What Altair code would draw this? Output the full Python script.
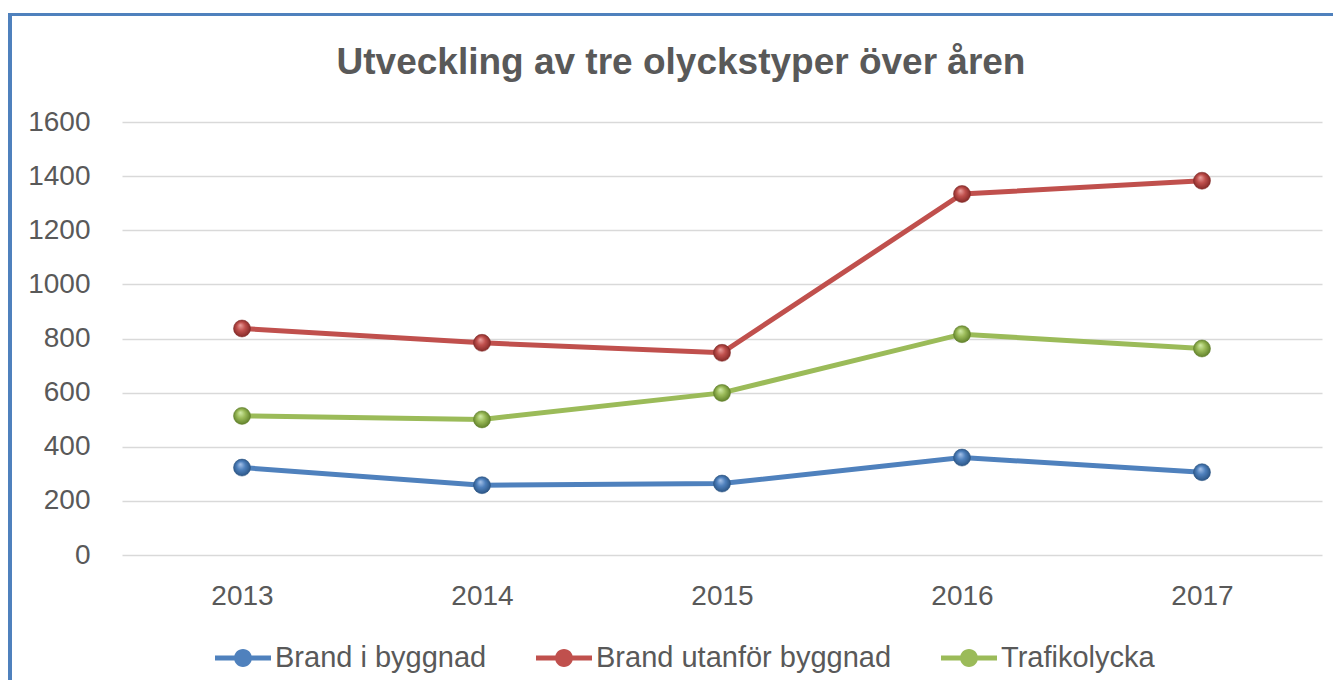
import altair as alt
import pandas as pd

years = ["2013", "2014", "2015", "2016", "2017"]
series_names = ["Brand i byggnad", "Brand utanför byggnad", "Trafikolycka"]
brand_i_byggnad = [323, 258, 264, 360, 306]
brand_utanfor = [837, 784, 747, 1334, 1383]
trafikolycka = [514, 501, 599, 816, 763]
y_ticks = [0, 200, 400, 600, 800, 1000, 1200, 1400, 1600]
title_text = "Utveckling av tre olyckstyper över åren"

colors = ["#4f81bd", "#c0504d", "#9bbb59"]
light = ["#a9c4ea", "#eba3a1", "#d3ecaa"]
dark = ["#27507f", "#7d2523", "#5a7a25"]

rows = []
for name, vals in zip(series_names, [brand_i_byggnad, brand_utanfor, trafikolycka]):
    for yr, v in zip(years, vals):
        rows.append({"year": yr, "value": v, "series": name})
df = pd.DataFrame(rows)

FONT = "Liberation Sans"
TXT = "#595959"

x_enc = alt.X("year:O", scale=alt.Scale(type="point", padding=0.5), title=None,
              axis=alt.Axis(labelAngle=0, labelFontSize=28, labelFont=FONT, labelColor=TXT,
                            labelPadding=27, ticks=False, domain=False, grid=False))
y_enc = alt.Y("value:Q", scale=alt.Scale(domain=[0, 1600], nice=False), title=None,
              axis=alt.Axis(values=y_ticks, format="d", labelFontSize=28, labelFont=FONT,
                            labelColor=TXT, labelPadding=32, ticks=False, domain=False,
                            grid=True, gridColor="#d9d9d9", gridWidth=1.5))

legend_path = ("M-1,-0.09 L1,-0.09 L1,0.09 L-1,0.09 Z "
               "M-0.32,0 A0.32,0.32 0 1,1 0.32,0 A0.32,0.32 0 1,1 -0.32,0 Z")

color_scale = alt.Scale(domain=series_names, range=colors)
legend = alt.Legend(title=None, orient="none", direction="horizontal",
                    legendX=93, legendY=508,
                    symbolType=legend_path, symbolSize=3136,
                    symbolStrokeWidth=0, symbolOpacity=1,
                    labelFontSize=29, labelFont=FONT, labelColor=TXT,
                    labelOffset=4, columnPadding=49, labelLimit=500)

lines = alt.Chart(df).mark_line(strokeWidth=5).encode(
    x=x_enc,
    y=y_enc,
    color=alt.Color("series:N", scale=color_scale, sort=series_names, legend=legend),
)

legend_layer = alt.Chart(df).mark_point(filled=True, opacity=0).encode(
    x=alt.X("year:O"),
    y=alt.Y("value:Q"),
    color=alt.Color("series:N", scale=color_scale, sort=series_names, legend=legend),
)

point_layers = []
for name, c, lc, dc in zip(series_names, colors, light, dark):
    grad = {"gradient": "radial", "x1": 0.4, "y1": 0.3, "r1": 0.0,
            "x2": 0.5, "y2": 0.5, "r2": 0.55,
            "stops": [{"offset": 0, "color": lc},
                      {"offset": 0.45, "color": c},
                      {"offset": 1, "color": dc}]}
    pts = alt.Chart(df).transform_filter(alt.datum.series == name).mark_point(
        filled=True, size=290, fill=grad, opacity=1, stroke=dc, strokeWidth=0.5
    ).encode(x=alt.X("year:O"), y=alt.Y("value:Q"))
    point_layers.append(pts)

frame_left = alt.Chart(df).mark_rule(color="#4f81bd", strokeWidth=5).encode(
    x=alt.value(-112.5), y=alt.value(-108.5), y2=alt.value(600))
frame_top = alt.Chart(df).mark_rule(color="#4f81bd", strokeWidth=3).encode(
    x=alt.value(-115), x2=alt.value(1230), y=alt.value(-107.5))

title = alt.Chart(pd.DataFrame({"t": [title_text]})).mark_text(
    font=FONT, fontSize=37, fontWeight="bold", color=TXT, align="center",
    baseline="alphabetic"
).encode(text="t:N", x=alt.value(559), y=alt.value(-48))

chart = alt.layer(frame_left, frame_top, title, lines, legend_layer, *point_layers).properties(
    width=1200, height=433,
    background="white",
    autosize=alt.AutoSizeParams(type="none"),
    padding={"left": 114, "top": 114, "right": 11, "bottom": 125},
).configure_view(strokeWidth=0)

chart.save("out.html", embed_options={"renderer": "svg", "actions": False})
